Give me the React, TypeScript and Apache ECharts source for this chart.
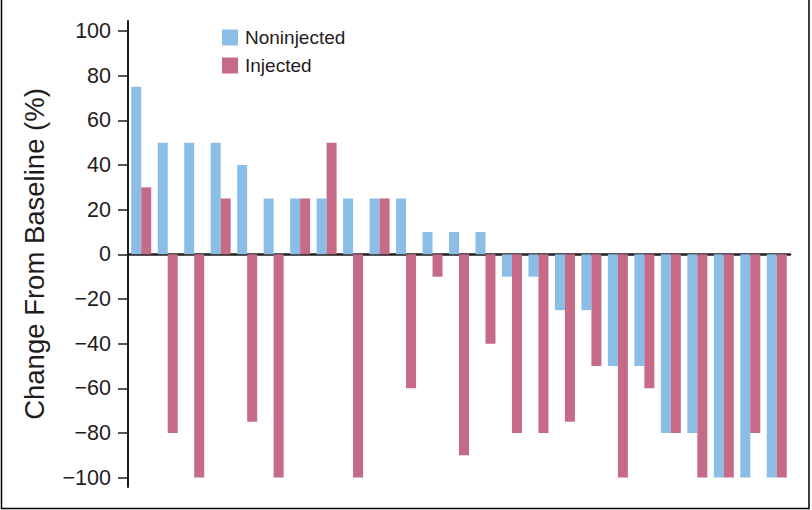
import React, { useEffect, useRef } from "react";
import * as echarts from "echarts";

const categories = [
  "P1", "P2", "P3", "P4", "P5", "P6", "P7", "P8", "P9", "P10",
  "P11", "P12", "P13", "P14", "P15", "P16", "P17", "P18", "P19", "P20",
  "P21", "P22", "P23", "P24", "P25",
];
const noninjected = [
  75, 50, 50, 50, 40, 25, 25, 25, 25, 25, 25, 10, 10, 10, -10, -10, -25, -25,
  -50, -50, -80, -80, -100, -100, -100,
];
const injected = [
  30, -80, -100, 25, -75, -100, 25, 50, -100, 25, -60, -10, -90, -40, -80,
  -80, -75, -50, -100, -60, -80, -100, -100, -80, -100,
];
const yTicks = [-100, -80, -60, -40, -20, 0, 20, 40, 60, 80, 100];

const FONT = "'Liberation Sans', Arial, Helvetica, sans-serif";
const INK = "#1f1c1d";
const BLUE = "#8abee6";
const PINK = "#c56a87";

export default function App() {
  const ref = useRef<HTMLDivElement>(null);
  useEffect(() => {
    if (!ref.current) return;
    const chart = echarts.init(ref.current, undefined, { renderer: "svg" });
    chart.setOption({
      animation: false,
      backgroundColor: "#ffffff",
      textStyle: { fontFamily: FONT },
      grid: { left: 128, right: 22, top: 21, bottom: 23 },
      legend: {
        data: ["Noninjected", "Injected"],
        orient: "vertical",
        left: 217,
        top: 23,
        icon: "rect",
        itemWidth: 16,
        itemHeight: 16,
        itemGap: 9,
        textStyle: { fontSize: 19, color: INK, fontFamily: FONT, padding: [0, 0, 0, 2] },
      },
      xAxis: {
        type: "category",
        data: categories,
        axisLine: { show: true, onZero: true, lineStyle: { color: INK, width: 2.5 } },
        axisTick: { show: false },
        axisLabel: { show: false },
        splitLine: { show: false },
      },
      yAxis: {
        type: "value",
        min: -104.2,
        max: 104.5,
        name: "Change From Baseline (%)",
        nameLocation: "middle",
        nameGap: 80,
        nameTextStyle: { fontSize: 27.5, color: INK, fontFamily: FONT },
        axisLine: { show: true, lineStyle: { color: INK, width: 2 } },
        axisTick: {
          show: true,
          length: 10,
          customValues: yTicks,
          lineStyle: { color: INK, width: 1.5 },
        },
        axisLabel: {
          customValues: yTicks,
          margin: 17,
          fontSize: 21.5,
          color: INK,
          fontFamily: FONT,
          formatter: (v: number) => String(v).replace("-", "\u2212"),
        },
        splitLine: { show: false },
      },
      series: [
        {
          name: "Noninjected",
          type: "bar",
          data: noninjected,
          barWidth: 10,
          barGap: "0%",
          itemStyle: { color: BLUE },
        },
        {
          name: "Injected",
          type: "bar",
          data: injected,
          barWidth: 10,
          barGap: "0%",
          itemStyle: { color: PINK },
        },
      ],
      graphic: [
        {
          type: "polyline",
          shape: { points: [[1.5, 0], [1.5, 508.5], [809, 508.5], [809, 0]] },
          style: { stroke: "#000", lineWidth: 1.5, fill: null },
          silent: true,
        },
      ],
    });
    return () => chart.dispose();
  }, []);
  return (
    <div
      ref={ref}
      style={{ position: "fixed", left: 0, top: 0, width: 812, height: 510 }}
    />
  );
}
